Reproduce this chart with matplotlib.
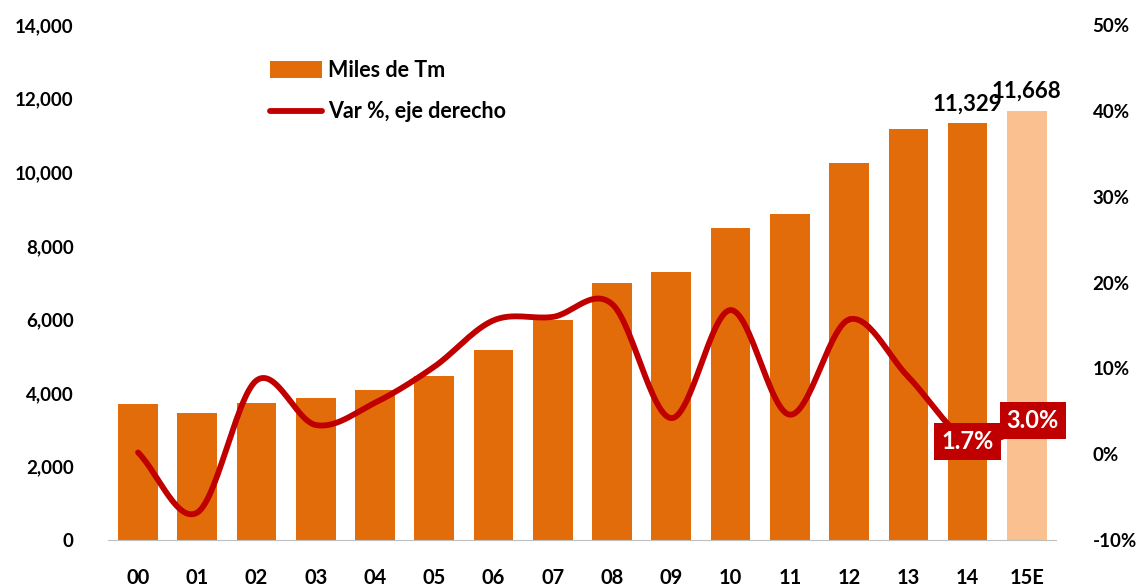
"""Produccion anual (miles de Tm) con variacion % en eje derecho."""

import matplotlib
matplotlib.use("Agg")
import matplotlib.pyplot as plt
import numpy as np
from matplotlib.ticker import FuncFormatter

plt.rcParams["font.family"] = ["Lato", "DejaVu Sans"]
plt.rcParams["font.weight"] = "bold"

years = ["00", "01", "02", "03", "04", "05", "06", "07",
         "08", "09", "10", "11", "12", "13", "14", "15E"]
miles_tm = [3700, 3450, 3720, 3860, 4080, 4460, 5170, 5980,
            6990, 7290, 8480, 8860, 10250, 11170, 11329, 11668]
var_pct = [0.2, -6.8, 8.6, 3.4, 6.0, 10.2, 15.6, 16.0,
           17.5, 4.2, 16.8, 4.6, 15.7, 9.0, 1.7, 3.0]

BAR = "#E36C0A"
BAR_EST = "#FAC090"
LINE = "#C00000"


def smooth(x, y, n=30):
    """Catmull-Rom curve through the points (like Excel's smoothed line)."""
    x = np.asarray(x, float)
    y = np.asarray(y, float)
    px = np.concatenate([[2 * x[0] - x[1]], x, [2 * x[-1] - x[-2]]])
    py = np.concatenate([[2 * y[0] - y[1]], y, [2 * y[-1] - y[-2]]])
    xs, ys = [], []
    t = np.linspace(0, 1, n)
    for i in range(1, len(px) - 2):
        for p, out in ((px, xs), (py, ys)):
            p0, p1, p2, p3 = p[i - 1], p[i], p[i + 1], p[i + 2]
            out.extend(0.5 * ((2 * p1) + (-p0 + p2) * t
                              + (2 * p0 - 5 * p1 + 4 * p2 - p3) * t ** 2
                              + (-p0 + 3 * p1 - 3 * p2 + p3) * t ** 3))
    return np.array(xs), np.array(ys)


fig = plt.figure(figsize=(11.45, 5.87), dpi=100)
ax = fig.add_axes([0.0947, 0.0801, 0.828, 0.877])
x = np.arange(len(years))

colors = [BAR] * (len(years) - 1) + [BAR_EST]
bars = ax.bar(x, miles_tm, width=0.67, color=colors, zorder=2)
ax.set_xlim(-0.5, len(years) - 0.5)
ax.set_ylim(0, 14000)
ax.set_yticks(np.arange(0, 14001, 2000))
ax.yaxis.set_major_formatter(FuncFormatter(lambda v, _: f"{v:,.0f}"))
ax.set_xticks(x)
ax.set_xticklabels(years)
ax.tick_params(axis="both", length=0, labelsize=13.5)
ax.tick_params(axis="y", pad=25)
ax.tick_params(axis="x", pad=20, labelsize=14.5)
for s in ("top", "right", "left"):
    ax.spines[s].set_visible(False)
ax.spines["bottom"].set_color("#BFBFBF")

for i in (14, 15):
    ax.text(x[i], miles_tm[i] + 250, f"{miles_tm[i]:,}", ha="center",
            va="bottom", fontsize=16, fontweight="bold")

ax2 = ax.twinx()
sx, sy = smooth(x, var_pct)
line, = ax2.plot(sx, sy, color=LINE, lw=4.2, solid_capstyle="round", zorder=3)
ax2.set_ylim(-10, 50)
ax2.set_yticks(np.arange(-10, 51, 10))
ax2.yaxis.set_major_formatter(FuncFormatter(lambda v, _: f"{v:.0f}%"))
ax2.tick_params(axis="y", length=0, labelsize=13.5, pad=26)
for s in ax2.spines.values():
    s.set_visible(False)

box = dict(boxstyle="square,pad=0.3", fc=LINE, ec="none")
ax2.text(x[14], var_pct[14] - 0.2, f"{var_pct[14]:.1f}%", ha="center",
         va="center", color="white", fontsize=17, bbox=box, zorder=5)
ax2.text(x[15] + 0.1, var_pct[15] + 0.9, f"{var_pct[15]:.1f}%", ha="center",
         va="center", color="white", fontsize=17, bbox=box, zorder=5)

leg = ax2.legend([bars, line], ["Miles de Tm", "Var %, eje derecho"],
                 loc="upper left", bbox_to_anchor=(0.15, 0.97),
                 frameon=False, fontsize=15.5, handlelength=2.4,
                 handleheight=0.8, labelspacing=0.95, handletextpad=0.3)

fig.savefig("out.png", dpi=100)
